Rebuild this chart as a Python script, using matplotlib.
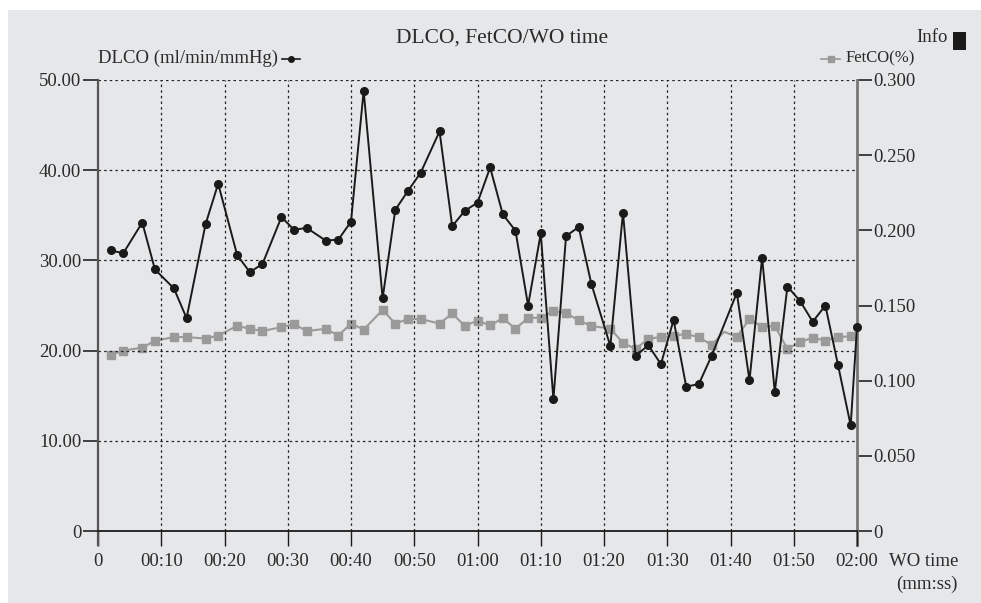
import matplotlib
matplotlib.use("Agg")
import matplotlib.pyplot as plt
from matplotlib.patches import Rectangle
from matplotlib.lines import Line2D

# breath times (s) and values
t_dlco = [2, 4, 7, 9, 12, 14, 17, 19, 22, 24, 26, 29, 31, 33, 36, 38, 40, 42, 45, 47,
          49, 51, 54, 56, 58, 60, 62, 64, 66, 68, 70, 72, 74, 76, 78, 81, 83, 85, 87, 89,
          91, 93, 95, 97, 101, 103, 105, 107, 109, 111, 113, 115, 117, 119, 120]
dlco = [31.1, 30.8, 34.2, 29.0, 26.9, 23.6, 34.0, 38.5, 30.6, 28.7,
        29.6, 34.8, 33.4, 33.6, 32.2, 32.3, 34.3, 48.8, 25.8, 35.6,
        37.7, 39.7, 44.3, 33.8, 35.5, 36.4, 40.3, 35.1, 33.3, 25.0,
        33.0, 14.6, 32.7, 33.7, 27.4, 20.5, 35.3, 19.4, 20.6, 18.5,
        23.4, 16.0, 16.3, 19.4, 26.4, 16.7, 30.3, 15.4, 27.1, 25.5,
        23.2, 25.0, 18.4, 11.7, 22.6]

t_fetco = [2, 4, 7, 9, 12, 14, 17, 19, 22, 24, 26, 29, 31, 33, 36, 38, 40, 42, 45, 47,
           49, 51, 54, 56, 58, 60, 62, 64, 66, 68, 70, 72, 74, 76, 78, 81, 83, 85, 87, 89,
           91, 93, 95, 97, 99, 101, 103, 105, 107, 109, 111, 113, 115, 117, 119]
fetco = [0.117, 0.120, 0.122, 0.1265, 0.129, 0.129, 0.128, 0.130, 0.1365, 0.1345,
         0.133, 0.1356, 0.1376, 0.133, 0.1345, 0.130, 0.138, 0.134, 0.147, 0.138,
         0.141, 0.141, 0.138, 0.1447, 0.1364, 0.140, 0.1367, 0.1416, 0.1345, 0.1418,
         0.1418, 0.1464, 0.1449, 0.1402, 0.1363, 0.1347, 0.1251, 0.1211, 0.1278, 0.1291,
         0.1298, 0.1311, 0.1289, 0.1238, 0.1325, 0.1291, 0.1411, 0.1358, 0.1364, 0.1211,
         0.1256, 0.1287, 0.1265, 0.1289, 0.1296]
fetco_unmarked = [99]

x_ticks = [0, 10, 20, 30, 40, 50, 60, 70, 80, 90, 100, 110, 120]
x_labels = ["0", "00:10", "00:20", "00:30", "00:40", "00:50", "01:00", "01:10",
            "01:20", "01:30", "01:40", "01:50", "02:00"]
y_ticks = [0, 10, 20, 30, 40, 50]
y_labels = ["0", "10.00", "20.00", "30.00", "40.00", "50.00"]
y2_ticks = [0, 0.05, 0.10, 0.15, 0.20, 0.25, 0.30]
y2_labels = ["0", "0.050", "0.100", "0.150", "0.200", "0.250", "0.300"]

BG = "#e6e7e9"
DARK = "#1a1a1a"
GREY = "#9a9a9a"
TXT = "#2a2a2a"

plt.rcParams["font.family"] = ["Liberation Serif", "DejaVu Serif"]
plt.rcParams["font.size"] = 13.5

fig = plt.figure(figsize=(9.81, 6.03), dpi=100, facecolor="white")
fig.add_artist(Rectangle((8 / 981, 0), 1 - 8 / 981, 1 - 10 / 603, transform=fig.transFigure,
                         facecolor=BG, edgecolor="none", zorder=-10))

ax = fig.add_axes([98 / 981, 1 - 531 / 603, (857 - 98) / 981, (531 - 80) / 603])
ax.set_facecolor(BG)
ax2 = ax.twinx()

ax.set_xlim(0, 120)
ax.set_ylim(0, 50)
ax2.set_ylim(0, 0.3)

# grid
for x in x_ticks[1:-1]:
    ax.axvline(x, color="#222222", lw=0.9, ls=(0, (2, 2.5)), zorder=1)
for y in y_ticks[1:]:
    ax.axhline(y, color="#222222", lw=0.9, ls=(0, (2, 2.5)), zorder=1)

# FetCO (right axis)
marks = [i for i, t in enumerate(t_fetco) if t not in fetco_unmarked]
ax2.plot(t_fetco, fetco, color=GREY, lw=1.5, marker="s", ms=5.5, mec=GREY, mfc=GREY,
         markevery=marks, zorder=2, clip_on=False)
# DLCO (left axis), drawn above FetCO
ax.set_zorder(ax2.get_zorder() + 1)
ax.patch.set_visible(False)
ax2.patch.set_visible(True)
ax2.patch.set_facecolor(BG)
ax.plot(t_dlco, dlco, color=DARK, lw=1.4, marker="o", ms=5.5, mec=DARK, mfc=DARK,
        zorder=3, clip_on=False)

# axes styling
for a in (ax, ax2):
    a.spines["top"].set_visible(False)
ax.spines["right"].set_visible(False)
ax2.spines["left"].set_visible(False)
ax2.spines["bottom"].set_visible(False)
ax.spines["left"].set_color("#555555")
ax.spines["left"].set_linewidth(1.6)
ax.spines["left"].set_bounds(-1.6, 50)
ax.spines["bottom"].set_color(DARK)
ax.spines["bottom"].set_linewidth(1.3)
ax2.spines["right"].set_color("#777777")
ax2.spines["right"].set_linewidth(2.0)
ax2.spines["right"].set_bounds(-0.0096, 0.3)

ax.set_xticks(x_ticks)
ax.set_xticklabels(x_labels)
ax.set_yticks(y_ticks)
ax.set_yticklabels(y_labels)
ax2.set_yticks(y2_ticks)
ax2.set_yticklabels(y2_labels)
ax.tick_params(axis="x", direction="out", length=11, width=1.0, color=DARK, pad=5,
               labelcolor=TXT)
ax.tick_params(axis="y", direction="out", length=11, width=1.3, color="#333333", pad=1,
               labelcolor=TXT)
ax2.tick_params(axis="y", direction="out", length=11, width=1.3, color="#333333", pad=1,
                labelcolor=TXT)

# titles and legend entries
fig.text(502 / 981, 1 - 38 / 603, "DLCO, FetCO/WO time", ha="center", va="center",
         color=TXT, fontsize=15.5)
fig.text(98 / 981, 1 - 58 / 603, "DLCO (ml/min/mmHg)", ha="left", va="center",
         color=TXT)
fig.add_artist(Line2D([282 / 981, 300 / 981], [1 - 59 / 603] * 2, transform=fig.transFigure,
                      color=DARK, lw=1.2))
fig.add_artist(Line2D([291 / 981], [1 - 59 / 603], transform=fig.transFigure,
                      color=DARK, marker="o", ms=4))
fig.text(915 / 981, 1 - 58 / 603, "FetCO(%)", ha="right", va="center", color=TXT,
         fontsize=12)
fig.add_artist(Line2D([821 / 981, 840 / 981], [1 - 59 / 603] * 2, transform=fig.transFigure,
                      color=GREY, lw=1.2))
fig.add_artist(Line2D([830.5 / 981], [1 - 59 / 603], transform=fig.transFigure,
                      color=GREY, marker="s", ms=4))
fig.text(948 / 981, 1 - 38 / 603, "Info", ha="right", va="center", color=TXT)
fig.add_artist(Rectangle((953 / 981, 1 - 50 / 603), 13 / 981, 18 / 603,
                         transform=fig.transFigure, facecolor=DARK, edgecolor="none"))

fig.text(958 / 981, 1 - 562 / 603, "WO time", ha="right", va="center", color=TXT)
fig.text(958 / 981, 1 - 584 / 603, "(mm:ss)", ha="right", va="center", color=TXT)

fig.savefig("out.png", dpi=100, facecolor=fig.get_facecolor())
